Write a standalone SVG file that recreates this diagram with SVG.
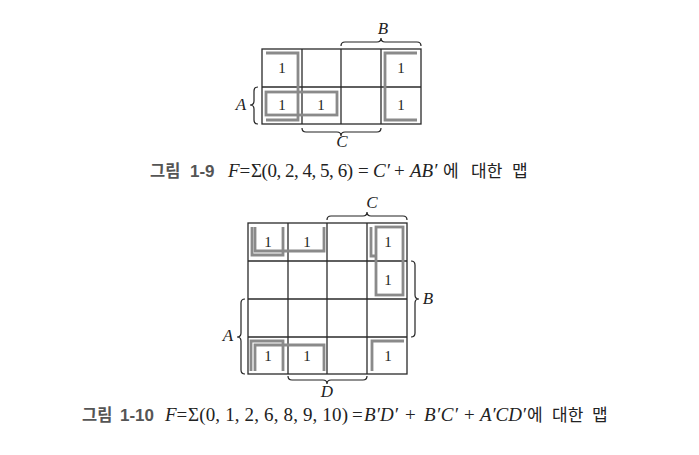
<svg xmlns="http://www.w3.org/2000/svg" width="699" height="455" viewBox="0 0 699 455">
<style>
.grid{fill:none;stroke:#2a2a2a;stroke-width:1.3}
.grp{fill:none;stroke:#8a8a8a;stroke-width:2.8}
.brace{fill:none;stroke:#222;stroke-width:1.2}
.one{font-family:"Liberation Serif",serif;font-size:15px;fill:#222;text-anchor:middle}
.var{font-family:"Liberation Serif",serif;font-style:italic;font-size:17px;fill:#222;text-anchor:middle}
.fig{font-family:"Noto Sans CJK KR","Noto Sans",sans-serif;font-weight:bold;font-size:16.5px;fill:#555}
.fign{font-family:"Liberation Sans",sans-serif;font-weight:bold;font-size:17px;fill:#555}
.kr{font-family:"Noto Sans CJK KR",sans-serif;font-size:17px;fill:#222}
.m{font-family:"Liberation Serif",serif;font-size:19px;fill:#222}
.mi{font-family:"Liberation Serif",serif;font-style:italic;font-size:19px;fill:#222}
.it{font-style:italic}
.up{font-style:normal}
</style>
<rect width="699" height="455" fill="#fff"/>

<!-- Map 1 -->
<g id="map1">
  <g id="map1-grid" class="grid">
    <rect x="262" y="49" width="159" height="75"/>
    <line x1="302" y1="49" x2="302" y2="124"/>
    <line x1="341" y1="49" x2="341" y2="124"/>
    <line x1="381" y1="49" x2="381" y2="124"/>
    <line x1="262" y1="87" x2="421" y2="87"/>
  </g>
  <g id="map1-ones">
    <text class="one" x="282" y="73">1</text>
    <text class="one" x="401" y="73">1</text>
    <text class="one" x="282" y="110">1</text>
    <text class="one" x="321" y="110">1</text>
    <text class="one" x="401" y="110">1</text>
  </g>
  <g id="map1-groups">
    <path class="grp" d="M266,53 H298 V120 H266"/>
    <path class="grp" d="M417,53 H385 V120 H417"/>
    <rect class="grp" x="266" y="92" width="71" height="23"/>
  </g>
  <g id="map1-labels">
    <path class="brace" d="M341,46 Q341,42 345,42 H377 Q381,42 381,38 Q381,42 385,42 H417 Q421,42 421,46"/>
    <text class="var" x="383" y="34">B</text>
    <path class="brace" d="M302,128 Q302,132 306,132 H337 Q341,132 341,136 Q341,132 345,132 H377 Q381,132 381,128"/>
    <text class="var" x="342" y="147">C</text>
    <path class="brace" d="M258,87 Q254,87 254,91 V101 Q254,105 250,105 Q254,105 254,109 V120 Q254,124 258,124"/>
    <text class="var" x="241" y="110">A</text>
  </g>
</g>

<g id="caption1">
  <text class="fig" x="150" y="177">그림</text>
  <text class="fign" x="190" y="177">1-9</text>
  <text class="m" x="228" y="177"><tspan class="it">F</tspan>=</text>
  <text class="m" x="251" y="177" textLength="102" lengthAdjust="spacing">Σ(0, 2, 4, 5, 6)</text>
  <text class="m" x="358" y="177">=</text>
  <text class="mi" x="373" y="177">C′</text>
  <text class="m" x="394" y="177">+</text>
  <text class="mi" x="410" y="177">AB′</text>
  <text class="kr" x="443" y="177">에</text>
  <text class="kr" x="471" y="177">대한</text>
  <text class="kr" x="512" y="177">맵</text>
</g>

<!-- Map 2 -->
<g id="map2">
  <g id="map2-grid" class="grid">
    <rect x="248" y="223" width="159" height="151"/>
    <line x1="288" y1="223" x2="288" y2="374"/>
    <line x1="327" y1="223" x2="327" y2="374"/>
    <line x1="367" y1="223" x2="367" y2="374"/>
    <line x1="248" y1="261" x2="407" y2="261"/>
    <line x1="248" y1="299" x2="407" y2="299"/>
    <line x1="248" y1="337" x2="407" y2="337"/>
  </g>
  <g id="map2-ones">
    <text class="one" x="268" y="247">1</text>
    <text class="one" x="307" y="247">1</text>
    <text class="one" x="388" y="247">1</text>
    <text class="one" x="388" y="285">1</text>
    <text class="one" x="268" y="361">1</text>
    <text class="one" x="307" y="361">1</text>
    <text class="one" x="388" y="361">1</text>
  </g>
  <g id="map2-groups">
    <path class="grp" d="M252,227 V255 H283 V227"/>
    <path class="grp" d="M255,227 V251 H324 V227"/>
    <path class="grp" d="M371,227 V256 H376"/>
    <rect class="grp" x="376" y="227" width="27" height="68"/>
    <path class="grp" d="M251,371 V341 H283 V371"/>
    <path class="grp" d="M255,371 V345 H324 V371"/>
    <path class="grp" d="M372,371 V341 H404"/>
  </g>
  <g id="map2-labels">
    <path class="brace" d="M327,220 Q327,216 331,216 H363 Q367,216 367,212 Q367,216 371,216 H403 Q407,216 407,220"/>
    <text class="var" x="372" y="208">C</text>
    <path class="brace" d="M411,261 Q415,261 415,265 V295 Q415,299 419,299 Q415,299 415,303 V333 Q415,337 411,337"/>
    <text class="var" x="428" y="304">B</text>
    <path class="brace" d="M245,299 Q241,299 241,303 V333 Q241,337 237,337 Q241,337 241,341 V370 Q241,374 245,374"/>
    <text class="var" x="228" y="341">A</text>
    <path class="brace" d="M288,376 Q288,380 292,380 H323 Q327,380 327,384 Q327,380 331,380 H363 Q367,380 367,376"/>
    <text class="var" x="327" y="397">D</text>
  </g>
</g>

<g id="caption2">
  <text class="fig" x="82" y="421">그림</text>
  <text class="fign" x="120" y="421">1-10</text>
  <text class="m" x="165" y="421"><tspan class="it">F</tspan>=</text>
  <text class="m" x="188" y="421" textLength="160" lengthAdjust="spacing">Σ(0, 1, 2, 6, 8, 9, 10)</text>
  <text class="m" x="352" y="421">=</text>
  <text class="mi" x="364" y="421" textLength="34" lengthAdjust="spacing">B′D′</text>
  <text class="m" x="405" y="421">+</text>
  <text class="mi" x="424" y="421" textLength="34" lengthAdjust="spacing">B′C′</text>
  <text class="m" x="464" y="421">+</text>
  <text class="mi" x="480" y="421" textLength="46" lengthAdjust="spacing">A′CD′</text>
  <text class="kr" x="527" y="421">에</text>
  <text class="kr" x="552" y="421">대한</text>
  <text class="kr" x="592" y="421">맵</text>
</g>
</svg>
